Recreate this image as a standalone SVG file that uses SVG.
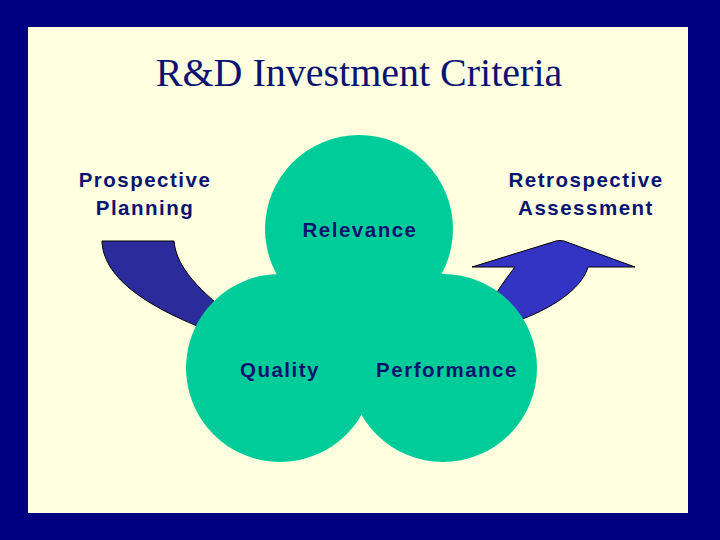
<svg xmlns="http://www.w3.org/2000/svg" width="720" height="540" viewBox="0 0 720 540">
<style>
.lbl{font-family:"Liberation Sans",Arial,sans-serif;font-weight:bold;font-size:20.5px;fill:#0A1470;text-anchor:middle;letter-spacing:1.5px}
.title{font-family:"Liberation Serif","Times New Roman",serif;font-size:40px;fill:#0A1470;text-anchor:middle}
.arrow{stroke:#000000;stroke-width:1}
.circ{fill:#00CC99}
</style>
<rect x="0" y="0" width="720" height="540" fill="#000080"/>
<rect x="28" y="27" width="660" height="486" fill="#FFFFE0"/>
<text class="title" x="359" y="86">R&amp;D Investment Criteria</text>
<g id="connectors">
<path id="arrow-left" class="arrow" fill="#2B2B9C" d="M102,241 L174,241 C176,262 190,284 235,318 L215,333 C140,305 103,275 102,241 Z"/>
<path id="arrow-right" class="arrow" fill="#3434C4" d="M472,267 L556,241 Q560,240 564,241 L635,267 L588,267 C583,285 560,305 520,320 L505,326 L492,300 C500,287 508,276 515,267 Z"/>
</g>
<g id="node-relevance"><circle class="circ" cx="359" cy="229" r="94"/></g>
<g id="node-quality"><circle class="circ" cx="280" cy="368" r="94"/></g>
<g id="node-performance"><circle class="circ" cx="443" cy="368" r="94"/></g>
<g id="labels-circles">
<text class="lbl" x="360" y="237">Relevance</text>
<text class="lbl" x="280" y="377">Quality</text>
<text class="lbl" x="447" y="377">Performance</text>
</g>
<g id="node-prospective">
<text class="lbl" x="145" y="187">Prospective</text>
<text class="lbl" x="145" y="215">Planning</text>
</g>
<g id="node-retrospective">
<text class="lbl" x="586" y="187">Retrospective</text>
<text class="lbl" x="586" y="215">Assessment</text>
</g>
</svg>
